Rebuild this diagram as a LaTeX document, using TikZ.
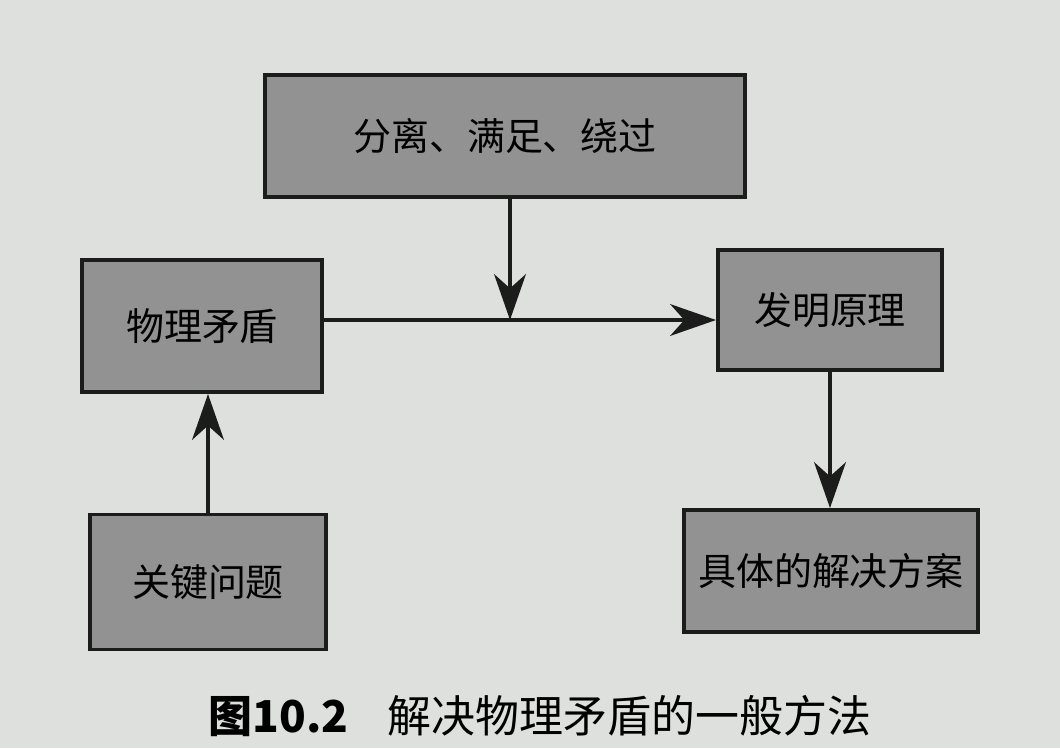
\documentclass[tikz,border=0pt]{standalone}
\usepackage{fontspec}
\setmainfont{Noto Sans CJK SC}
\usetikzlibrary{arrows.meta, positioning, calc}
\usepackage{xcolor}
\definecolor{paper}{RGB}{222, 224, 221}
\definecolor{boxgray}{RGB}{146, 146, 146}
\definecolor{ink}{RGB}{28, 28, 28}
\tikzset{
  gbox/.style={
    rectangle, draw=ink, fill=boxgray, line width=1.1pt,
    align=center, font=\fontsize{10.8}{13}\selectfont, inner sep=4pt
  },
  arr/.style={-{Stealth[length=13pt, width=9pt, inset=4pt]}, line width=1.3pt, color=ink},
}

\begin{document}
\begin{tikzpicture}[x=0.01cm, y=-0.01cm]
        \fill[paper] (0,0) rectangle (1060,748);
        \useasboundingbox (0,0) rectangle (1060,748);
        \node[gbox, minimum width=4.80cm, minimum height=1.22cm] (sep) at (505,136) {分离、满足、绕过};
        \node[gbox, minimum width=2.40cm, minimum height=1.32cm] (phys) at (202,326) {物理矛盾};
        \node[gbox, minimum width=2.24cm, minimum height=1.20cm] (inv) at (830,310) {发明原理};
        \node[gbox, minimum width=2.36cm, minimum height=1.35cm] (key) at (208,582) {关键问题};
        \node[gbox, minimum width=2.93cm, minimum height=1.22cm] (sol) at (831,571) {具体的解决方案};
        \coordinate (mid) at (510,320);
        \draw[arr] (phys.east |- mid) -- (inv.west |- mid);
        \draw[arr] (sep.south -| mid) -- (mid);
        \draw[arr] (key.north) -- (phys.south -| key.north);
        \draw[arr] (inv.south) -- (sol.north -| inv.south);
        \node[font=\fontsize{12.5}{15}\selectfont] (cap) at (540,716) {{\bfseries 图10.2}\hspace{0.9em}解决物理矛盾的一般方法};
      \end{tikzpicture}
\end{document}
